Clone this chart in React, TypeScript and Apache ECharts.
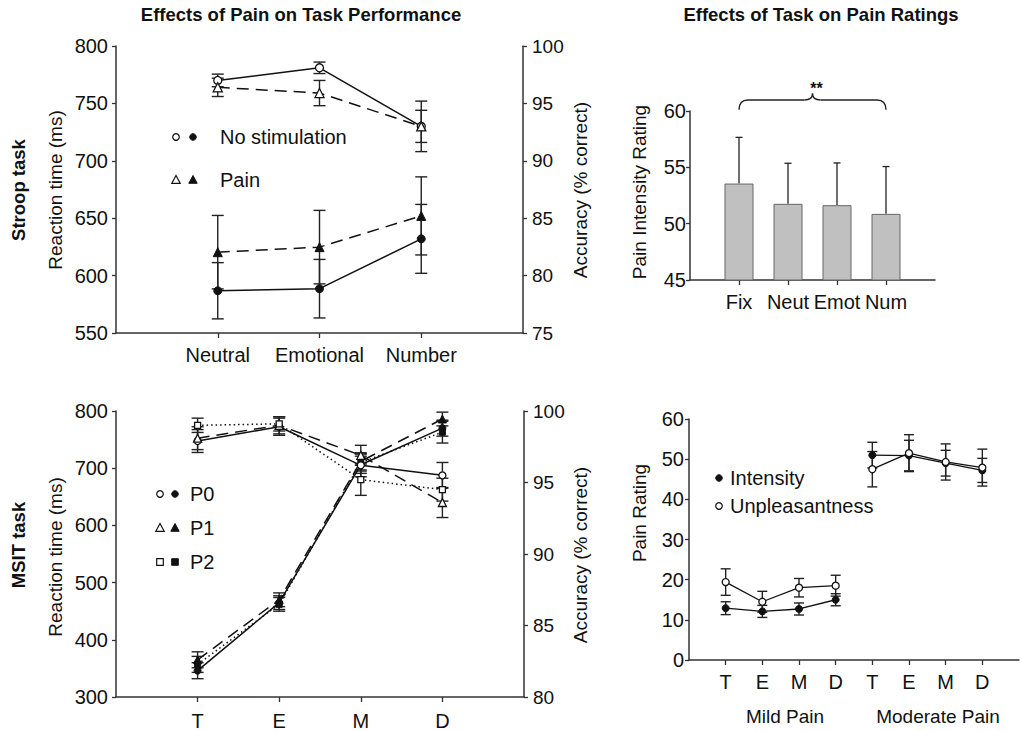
import React, { useEffect, useRef } from 'react';
import * as echarts from 'echarts';

// ---------- DATA ----------
const stroopCategories = ['Neutral', 'Emotional', 'Number'];
const stroopRtNoStim = [586.8, 588.6, 632];
const stroopRtNoStimErr = [24.5, 25.5, 30];
const stroopRtPain = [620.4, 624.8, 652];
const stroopRtPainErr = [32, 32, 34];
const stroopAccNoStim = [97.0, 98.1, 93.0];
const stroopAccNoStimErr = [0.55, 0.5, 1.4];
const stroopAccPain = [96.4, 95.9, 93.0];
const stroopAccPainErr = [0.8, 1.1, 2.2];

const barCategories = ['Fix', 'Neut', 'Emot', 'Num'];
const barValues = [53.56, 51.76, 51.64, 50.87];
const barErr = [4.1, 3.6, 3.75, 4.2];

const msitCategories = ['T', 'E', 'M', 'D'];
const msitRtP0 = [346, 465, 706, 770];
const msitRtP0Err = [14, 12, 15, 14];
const msitRtP1 = [365, 470, 712, 786];
const msitRtP1Err = [14, 12, 15, 12];
const msitRtP2 = [357, 462, 710, 763];
const msitRtP2Err = [14, 12, 15, 19];
const msitAccP0 = [97.9, 98.9, 96.2, 95.5];
const msitAccP0Err = [0.8, 0.6, 0.8, 0.9];
const msitAccP1 = [98.1, 99.0, 96.9, 93.6];
const msitAccP1Err = [0.8, 0.6, 0.7, 1.05];
const msitAccP2 = [99.0, 99.1, 95.2, 94.5];
const msitAccP2Err = [0.5, 0.5, 1.1, 0.8];

const ratingCategories = ['T', 'E', 'M', 'D', 'T', 'E', 'M', 'D'];
const intensityMild = [12.9, 12.1, 12.7, 15.0];
const intensityMildErr = [1.6, 1.5, 1.5, 1.5];
const intensityModerate = [51.0, 50.9, 49.0, 47.2];
const intensityModerateErr = [3.2, 3.8, 3.2, 3.0];
const unpleasantMild = [19.4, 14.5, 18.0, 18.5];
const unpleasantMildErr = [3.3, 2.6, 2.3, 2.6];
const unpleasantModerate = [47.5, 51.5, 49.3, 47.9];
const unpleasantModerateErr = [4.4, 4.6, 4.5, 4.6];

// ---------- STYLE ----------
const FONT = 'Liberation Sans, Arial, Helvetica, sans-serif';
const INK = '#111';
const AXIS = '#333';

const pad = (arr: number[], before: number, after: number) => [
  ...Array(before).fill('-'),
  ...arr,
  ...Array(after).fill('-'),
];

function errorBars(
  xi: number,
  yi: number,
  vals: number[],
  errs: number[],
  offset: number,
  cap: number,
  upOnly = false,
  width = 1.4
) {
  return {
    type: 'custom',
    xAxisIndex: xi,
    yAxisIndex: yi,
    z: 1,
    silent: true,
    data: vals.map((v, i) => [i + offset, upOnly ? v : v - errs[i], v + errs[i]]),
    encode: { x: 0, y: [1, 2] },
    renderItem: (_p: any, api: any) => {
      const x = api.value(0);
      const a = api.coord([x, api.value(1)]);
      const b = api.coord([x, api.value(2)]);
      const st = { stroke: '#222', lineWidth: width };
      const ch: any[] = [
        { type: 'line', shape: { x1: a[0], y1: a[1], x2: b[0], y2: b[1] }, style: st },
        { type: 'line', shape: { x1: b[0] - cap, y1: b[1], x2: b[0] + cap, y2: b[1] }, style: st },
      ];
      if (!upOnly)
        ch.push({ type: 'line', shape: { x1: a[0] - cap, y1: a[1], x2: a[0] + cap, y2: a[1] }, style: st });
      return { type: 'group', children: ch };
    },
  };
}

function lineSeries(
  xi: number,
  yi: number,
  data: any[],
  symbol: string,
  open: boolean,
  dash: any,
  size = 8,
  width = 1.5
) {
  return {
    type: 'line',
    xAxisIndex: xi,
    yAxisIndex: yi,
    data,
    z: 3,
    symbol,
    symbolSize: symbol === 'triangle' ? size + 1 : symbol === 'rect' ? size - 1 : size,
    showSymbol: true,
    connectNulls: false,
    lineStyle: { color: INK, width, type: dash },
    itemStyle: open
      ? { color: '#fff', borderColor: INK, borderWidth: 1.3 }
      : { color: INK, borderColor: INK, borderWidth: 1 },
    silent: true,
  };
}

function catAxis(gridIndex: number, labels: string[], before: number, after: number, margin: number) {
  const n = labels.length + before + after;
  const keys = Array.from({ length: n }, (_, i) => 'k' + i);
  return {
    type: 'category',
    gridIndex,
    data: keys,
    boundaryGap: false,
    axisLine: { show: true, lineStyle: { color: AXIS, width: 1.5 } },
    axisTick: {
      show: true,
      length: 5,
      interval: (i: number) => i >= before && i < n - after,
      lineStyle: { color: AXIS, width: 1.3 },
    },
    axisLabel: {
      interval: 0,
      margin,
      fontSize: 20,
      color: INK,
      fontFamily: FONT,
      formatter: (_v: string, i: number) => labels[i - before] ?? '',
    },
    splitLine: { show: false },
  };
}

function valAxis(
  gridIndex: number,
  position: string,
  min: number,
  max: number,
  interval: number,
  margin = 8,
  fontSize = 20
) {
  return {
    type: 'value',
    gridIndex,
    position,
    min,
    max,
    interval,
    axisLine: { show: true, onZero: false, lineStyle: { color: AXIS, width: 1.5 } },
    axisTick: { show: true, length: 4, lineStyle: { color: AXIS, width: 1.3 } },
    axisLabel: { fontSize, color: INK, fontFamily: FONT, margin },
    splitLine: { show: false },
  };
}

const txt = (text: string, x: number, y: number, opts: any = {}) => ({
  type: 'text',
  x,
  y,
  rotation: opts.rotate ? Math.PI / 2 : 0,
  silent: true,
  style: {
    text,
    fill: INK,
    font: `${opts.bold ? 'bold ' : ''}${opts.size || 19}px ${FONT}`,
    align: opts.align || 'center',
    verticalAlign: 'middle',
  },
});

const sym = (kind: string, open: boolean, cx: number, cy: number) => {
  const style = open ? { fill: '#fff', stroke: INK, lineWidth: 1.2 } : { fill: INK, stroke: INK, lineWidth: 1 };
  if (kind === 'circle') return { type: 'circle', silent: true, shape: { cx, cy, r: 3.3 }, style };
  if (kind === 'rect') return { type: 'rect', silent: true, shape: { x: cx - 3.3, y: cy - 3.3, width: 6.6, height: 6.6 }, style };
  return {
    type: 'polygon',
    silent: true,
    shape: { points: [[cx, cy - 4.5], [cx - 4.2, cy + 3.3], [cx + 4.2, cy + 3.3]] },
    style,
  };
};

export default function App() {
  const ref = useRef<HTMLDivElement>(null);

  useEffect(() => {
    if (!ref.current) return;
    const chart = echarts.init(ref.current, undefined, { renderer: 'svg' });

    const option: any = {
      animation: false,
      backgroundColor: '#fff',
      grid: [
        { left: 116, top: 46, width: 407, height: 287 },
        { left: 690, top: 111, width: 245, height: 169 },
        { left: 116, top: 411, width: 408, height: 287 },
        { left: 689, top: 419, width: 344.7, height: 241 },
      ],
      xAxis: [
        catAxis(0, stroopCategories, 1, 1, 12),
        catAxis(1, barCategories, 1, 1, 12),
        catAxis(2, msitCategories, 1, 1, 14),
        catAxis(3, ratingCategories, 1, 1, 12),
      ],
      yAxis: [
        valAxis(0, 'left', 550, 800, 50),
        valAxis(0, 'right', 75, 100, 5, 9, 19),
        valAxis(1, 'left', 45, 60, 5, 4),
        valAxis(2, 'left', 300, 800, 100),
        valAxis(2, 'right', 80, 100, 5, 9, 19),
        valAxis(3, 'left', 0, 60, 10, 5),
      ],
      series: [
        // Stroop
        errorBars(0, 0, stroopRtNoStim, stroopRtNoStimErr, 1, 6),
        errorBars(0, 0, stroopRtPain, stroopRtPainErr, 1, 6),
        errorBars(0, 1, stroopAccNoStim, stroopAccNoStimErr, 1, 6),
        errorBars(0, 1, stroopAccPain, stroopAccPainErr, 1, 6),
        lineSeries(0, 0, pad(stroopRtNoStim, 1, 1), 'circle', false, 'solid'),
        lineSeries(0, 0, pad(stroopRtPain, 1, 1), 'triangle', false, [12, 7]),
        lineSeries(0, 1, pad(stroopAccNoStim, 1, 1), 'circle', true, 'solid'),
        lineSeries(0, 1, pad(stroopAccPain, 1, 1), 'triangle', true, [12, 7]),
        // Bars
        {
          type: 'bar',
          xAxisIndex: 1,
          yAxisIndex: 2,
          data: pad(barValues, 1, 1),
          barWidth: 29,
          z: 2,
          silent: true,
          itemStyle: { color: '#c0c0c0', borderColor: '#666', borderWidth: 1 },
        },
        errorBars(1, 2, barValues, barErr, 1, 3.5, true, 1.3),
        // MSIT
        errorBars(2, 3, msitRtP0, msitRtP0Err, 1, 6),
        errorBars(2, 3, msitRtP1, msitRtP1Err, 1, 6),
        errorBars(2, 3, msitRtP2, msitRtP2Err, 1, 6),
        errorBars(2, 4, msitAccP0, msitAccP0Err, 1, 6),
        errorBars(2, 4, msitAccP1, msitAccP1Err, 1, 6),
        errorBars(2, 4, msitAccP2, msitAccP2Err, 1, 6),
        lineSeries(2, 3, pad(msitRtP0, 1, 1), 'circle', false, 'solid', 7),
        lineSeries(2, 3, pad(msitRtP1, 1, 1), 'triangle', false, [12, 7], 7),
        lineSeries(2, 3, pad(msitRtP2, 1, 1), 'rect', false, [1.5, 3], 7),
        lineSeries(2, 4, pad(msitAccP0, 1, 1), 'circle', true, 'solid', 7),
        lineSeries(2, 4, pad(msitAccP1, 1, 1), 'triangle', true, [12, 7], 7),
        lineSeries(2, 4, pad(msitAccP2, 1, 1), 'rect', true, [1.5, 3], 7),
        // Ratings
        errorBars(3, 5, intensityMild, intensityMildErr, 1, 5),
        errorBars(3, 5, intensityModerate, intensityModerateErr, 5, 5),
        errorBars(3, 5, unpleasantMild, unpleasantMildErr, 1, 5),
        errorBars(3, 5, unpleasantModerate, unpleasantModerateErr, 5, 5),
        lineSeries(3, 5, pad(intensityMild, 1, 5), 'circle', false, 'solid', 7, 1.3),
        lineSeries(3, 5, pad(intensityModerate, 5, 1), 'circle', false, 'solid', 7, 1.3),
        lineSeries(3, 5, pad(unpleasantMild, 1, 5), 'circle', true, 'solid', 7, 1.3),
        lineSeries(3, 5, pad(unpleasantModerate, 5, 1), 'circle', true, 'solid', 7, 1.3),
      ],
    };
    chart.setOption(option);

    // Significance brace over the bar panel (positioned through the axes)
    const finder = { xAxisIndex: 1, yAxisIndex: 2 };
    const pL = chart.convertToPixel(finder, [1, 60.1]) as number[];
    const pR = chart.convertToPixel(finder, [4, 60.1]) as number[];
    const pH = chart.convertToPixel(finder, [1, 60.98]) as number[];
    const pT = chart.convertToPixel(finder, [1, 61.55]) as number[];
    const x1 = pL[0], x2 = pR[0], yE = pL[1], yH = pH[1], yP = pT[1];
    const xm = (x1 + x2) / 2;
    const bs = { stroke: '#222', lineWidth: 1.4, fill: null };
    const brace = [
      { type: 'bezierCurve', silent: true, shape: { x1, y1: yE, x2: x1 + 9, y2: yH, cpx1: x1, cpy1: yH }, style: bs },
      { type: 'line', silent: true, shape: { x1: x1 + 9, y1: yH, x2: xm - 8, y2: yH }, style: bs },
      { type: 'bezierCurve', silent: true, shape: { x1: xm - 8, y1: yH, x2: xm, y2: yP, cpx1: xm, cpy1: yH }, style: bs },
      { type: 'bezierCurve', silent: true, shape: { x1: xm, y1: yP, x2: xm + 8, y2: yH, cpx1: xm, cpy1: yH }, style: bs },
      { type: 'line', silent: true, shape: { x1: xm + 8, y1: yH, x2: x2 - 9, y2: yH }, style: bs },
      { type: 'bezierCurve', silent: true, shape: { x1: x2 - 9, y1: yH, x2, y2: yE, cpx1: x2, cpy1: yH }, style: bs },
      txt('**', xm + 4, yP - 5, { bold: true, size: 16 }),
    ];

    const graphics: any[] = [
      txt('Effects of Pain on Task Performance', 301, 14, { bold: true, size: 18.5 }),
      txt('Effects of Task on Pain Ratings', 821, 14, { bold: true, size: 18.5 }),
      txt('Stroop task', 18, 190, { bold: true, size: 18.5, rotate: true }),
      txt('MSIT task', 18, 545, { bold: true, size: 18.5, rotate: true }),
      txt('Reaction time (ms)', 55, 190, { rotate: true }),
      txt('Accuracy (% correct)', 580, 190, { rotate: true }),
      txt('Reaction time (ms)', 55, 557, { rotate: true }),
      txt('Accuracy (% correct)', 580, 555, { rotate: true }),
      txt('Pain Intensity Rating', 639, 192, { rotate: true }),
      txt('Pain Rating', 639, 513, { rotate: true }),
      txt('Mild Pain', 785, 716, {}),
      txt('Moderate Pain', 938, 716, {}),
      // Stroop legend
      sym('circle', true, 176, 137),
      sym('circle', false, 193, 137),
      txt('No stimulation', 220, 137, { align: 'left', size: 20 }),
      sym('triangle', true, 176, 180),
      sym('triangle', false, 193, 180),
      txt('Pain', 220, 180, { align: 'left', size: 20 }),
      // MSIT legend
      sym('circle', true, 160, 494),
      sym('circle', false, 175, 494),
      txt('P0', 190, 494, { align: 'left', size: 20 }),
      sym('triangle', true, 160, 528),
      sym('triangle', false, 175, 528),
      txt('P1', 190, 528, { align: 'left', size: 20 }),
      sym('rect', true, 160, 562),
      sym('rect', false, 175, 562),
      txt('P2', 190, 562, { align: 'left', size: 20 }),
      // Ratings legend
      sym('circle', false, 719, 478),
      txt('Intensity', 730, 478, { align: 'left', size: 20 }),
      sym('circle', true, 719, 506),
      txt('Unpleasantness', 730, 506, { align: 'left', size: 20 }),
      ...brace,
    ];
    chart.setOption({ graphic: { elements: graphics } });

    return () => chart.dispose();
  }, []);

  return (
    <div
      ref={ref}
      style={{ position: 'fixed', left: 0, top: 0, width: 1022, height: 731, background: '#fff' }}
    />
  );
}
